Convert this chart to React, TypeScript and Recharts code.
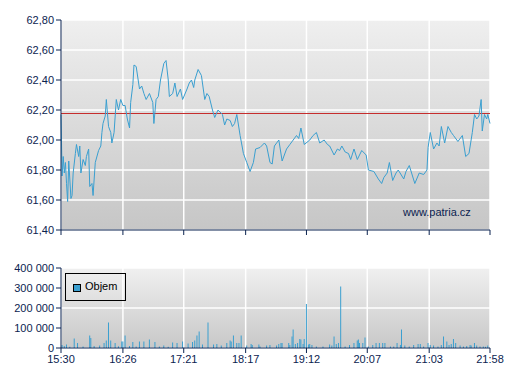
import { Bar, BarChart, CartesianGrid, Line, LineChart, ReferenceLine, XAxis, YAxis } from "recharts";

// x axis labels (trading session 15:30 - 21:58)
const timeLabels = ["15:30", "16:26", "17:21", "18:17", "19:12", "20:07", "21:03", "21:58"];

// minutes since 15:30 and last price
const priceTimes = [
  0, 1, 2, 3, 4, 5, 6, 7, 9, 10, 11, 13, 14, 16, 17, 18, 20, 22, 23, 25, 26, 28, 29, 31, 34, 36, 37, 38, 40, 41,
  43, 45, 46, 48, 50, 52, 54, 56, 58, 60, 62, 63, 65, 66, 68, 71, 73, 75, 76, 77, 80, 83, 84, 86, 88, 90, 93, 95,
  97, 98, 101, 103, 105, 108, 110, 114, 116, 118, 120, 121, 124, 127, 130, 132, 134, 137, 139, 142, 146, 148, 150,
  153, 155, 157, 159, 162, 165, 168, 171, 174, 176, 180, 184, 186, 189, 191, 193, 197, 200, 204, 207, 210, 213,
  215, 217, 220, 225, 228, 231, 234, 238, 241, 243, 247, 250, 252, 254, 257, 260, 262, 265, 268, 272, 276, 278,
  283, 287, 290, 292, 295, 297, 300, 303, 305, 310, 312, 315, 320, 324, 328, 331, 332, 334, 337, 340, 342, 344,
  347, 350, 353, 355, 359, 363, 366, 369, 372, 374, 376, 378, 380, 381, 383, 385, 386, 388,
];
const prices = [
  62.17, 61.76, 61.89, 61.78, 61.85, 61.71, 61.59, 61.86, 61.61, 61.63, 61.78, 61.91, 61.97, 61.89, 61.96, 61.78,
  61.87, 61.83, 61.89, 61.94, 61.69, 61.71, 61.63, 61.85, 61.93, 61.96, 62.05, 62.11, 62.16, 62.27, 62.09, 62.05,
  61.98, 62.05, 62.27, 62.2, 62.27, 62.23, 62.23, 62.14, 62.08, 62.25, 62.37, 62.5, 62.49, 62.34, 62.36, 62.31,
  62.29, 62.27, 62.31, 62.25, 62.11, 62.27, 62.29, 62.4, 62.51, 62.53, 62.4, 62.29, 62.31, 62.38, 62.29, 62.34,
  62.27, 62.34, 62.38, 62.4, 62.35, 62.4, 62.47, 62.43, 62.27, 62.31, 62.29, 62.2, 62.15, 62.2, 62.17, 62.1, 62.14,
  62.13, 62.09, 62.11, 62.17, 62.03, 61.91, 61.85, 61.79, 61.85, 61.94, 61.95, 61.98, 61.96, 61.85, 61.84, 61.96,
  62.0, 61.86, 61.94, 61.97, 62.0, 62.03, 62.01, 62.08, 61.97, 62.0, 62.03, 62.05, 61.98, 62.0, 61.97, 61.96, 61.9,
  61.94, 61.93, 61.96, 61.92, 61.91, 61.87, 61.94, 61.87, 61.93, 61.9, 61.8, 61.79, 61.74, 61.71, 61.75, 61.78,
  61.85, 61.73, 61.78, 61.8, 61.74, 61.79, 61.83, 61.71, 61.78, 61.77, 61.8, 61.95, 62.05, 61.94, 61.98, 61.96,
  62.09, 61.98, 62.09, 62.05, 62.03, 61.99, 62.03, 61.89, 61.91, 62.05, 62.17, 62.14, 62.16, 62.27, 62.06, 62.17,
  62.14, 62.17, 62.11,
];
const previousClose = 62.18;
const priceTicks = [61.4, 61.6, 61.8, 62.0, 62.2, 62.4, 62.6, 62.8];

// traded volume per minute
const volumeTimes = [
  1, 3, 5, 8, 12, 15, 20, 26, 27, 30, 35, 39, 41, 43, 45, 49, 52, 55, 56, 58, 62, 65, 68, 71, 75, 80, 85, 89, 93, 97,
  101, 105, 110, 115, 119, 121, 123, 125, 128, 133, 138, 141, 145, 150, 153, 154, 156, 159, 161, 163, 168, 172,
  173, 179, 180, 186, 189, 195, 197, 199, 200, 206, 207, 209, 210, 212, 214, 216, 217, 219, 220, 222, 224, 225,
  227, 231, 237, 243, 245, 247, 249, 251, 253, 257, 261, 265, 268, 269, 270, 273, 275, 278, 282, 285, 288, 291,
  293, 298, 301, 304, 307, 308, 311, 315, 319, 323, 325, 328, 332, 334, 337, 341, 344, 346, 349, 351, 353, 355,
  357, 361, 364, 367, 370, 371, 374, 376, 379, 382, 384, 386,
];
const volumes = [
  15000, 10000, 17000, 6000, 47000, 25000, 8000, 63000, 50000, 10000, 12000, 25000, 37000, 127000, 37000, 25000,
  9000, 33000, 33000, 62000, 10000, 30000, 8000, 33000, 33000, 42000, 30000, 8000, 13000, 6000, 28000, 25000,
  33000, 23000, 30000, 37000, 63000, 83000, 17000, 127000, 17000, 20000, 13000, 25000, 37000, 33000, 62000, 25000,
  25000, 62000, 13000, 20000, 15000, 17000, 8000, 12000, 15000, 12000, 20000, 25000, 25000, 25000, 15000, 58000,
  92000, 20000, 25000, 45000, 42000, 20000, 45000, 220000, 18000, 20000, 15000, 8000, 8000, 18000, 12000, 58000,
  20000, 25000, 307000, 8000, 15000, 25000, 37000, 42000, 25000, 25000, 53000, 8000, 15000, 25000, 25000, 25000,
  25000, 8000, 8000, 25000, 15000, 92000, 12000, 8000, 15000, 20000, 20000, 8000, 25000, 15000, 12000, 8000, 15000,
  58000, 32000, 15000, 20000, 45000, 25000, 12000, 8000, 10000, 15000, 12000, 25000, 12000, 8000, 8000, 6000,
  12000,
];
const volumeTicks = [0, 100000, 200000, 300000, 400000];

const toMinutes = (label: string) => {
  const [h, m] = label.split(":").map(Number);
  return h * 60 + m;
};
const sessionStart = toMinutes(timeLabels[0]);
const tickMinutes = timeLabels.map((l) => toMinutes(l) - sessionStart);
const timeDomain = [0, tickMinutes[tickMinutes.length - 1]];

const priceRows = priceTimes.map((t, i) => ({ t, price: prices[i] }));
const volumeRows = volumeTimes.map((t, i) => ({ t, volume: volumes[i] }));

const navy = "#0b2350";
const lineBlue = "#3a9fd0";
const font = "'Liberation Sans', Arial, sans-serif";
const tickStyle = { fill: navy, fontSize: 11, fontFamily: font };

const formatPrice = (v: number) => v.toFixed(2).replace(".", ",");
const formatVolume = (v: number) => String(v).replace(/\B(?=(\d{3})+(?!\d))/g, " ");
const formatTime = (v: number) => timeLabels[tickMinutes.indexOf(v)] ?? "";

export default function App() {
  return (
    <div style={{ position: "absolute", left: 0, top: 0, width: 507, height: 380, background: "#fff", fontFamily: font }}>
      <LineChart width={507} height={240} data={priceRows} margin={{ top: 20, right: 17, bottom: 0, left: 0 }}>
        <defs>
          <linearGradient id="priceBg" x1="0" y1="0" x2="0" y2="1">
            <stop offset="0%" stopColor="#efefef" />
            <stop offset="100%" stopColor="#c6c6c6" />
          </linearGradient>
        </defs>
        <CartesianGrid fill="url(#priceBg)" stroke="#ffffff" strokeWidth={1.5} strokeOpacity={1} />
        <XAxis
          dataKey="t"
          type="number"
          domain={timeDomain}
          ticks={tickMinutes}
          tickFormatter={() => ""}
          height={10}
          tickSize={5}
          stroke={navy}
          tick={tickStyle}
        />
        <YAxis
          type="number"
          domain={[61.4, 62.8]}
          ticks={priceTicks}
          tickFormatter={formatPrice}
          width={61}
          tickSize={5}
          tickMargin={2}
          stroke={navy}
          tick={tickStyle}
        />
        <ReferenceLine y={previousClose} stroke="#c62d2d" strokeWidth={1} shapeRendering="crispEdges" />
        <Line
          dataKey="price"
          type="linear"
          stroke={lineBlue}
          strokeWidth={1}
          dot={false}
          isAnimationActive={false}
        />
      </LineChart>
      <div
        style={{ position: "absolute", left: 403, top: 206, fontSize: 11, lineHeight: "13px", color: navy }}
      >
        www.patria.cz
      </div>
      <div style={{ position: "absolute", left: 0, top: 250 }}>
        <BarChart width={507} height={130} data={volumeRows} margin={{ top: 18, right: 17, bottom: 10, left: 0 }}>
          <defs>
            <linearGradient id="volBg" x1="0" y1="0" x2="0" y2="1">
              <stop offset="0%" stopColor="#f0f0f0" />
              <stop offset="100%" stopColor="#c8c8c8" />
            </linearGradient>
          </defs>
          <CartesianGrid fill="url(#volBg)" stroke="#ffffff" strokeWidth={1.5} strokeOpacity={1} />
          <XAxis
            dataKey="t"
            type="number"
            domain={timeDomain}
            ticks={tickMinutes}
            tickFormatter={formatTime}
            height={22}
            tickSize={5}
            tickMargin={2}
            stroke={navy}
            tick={tickStyle}
          />
          <YAxis
            type="number"
            domain={[0, 400000]}
            ticks={volumeTicks}
            tickFormatter={formatVolume}
            width={61}
            tickSize={5}
            tickMargin={2}
            stroke={navy}
            tick={tickStyle}
          />
          <Bar dataKey="volume" fill={lineBlue} barSize={1} isAnimationActive={false} />
        </BarChart>
        <div
          style={{
            position: "absolute",
            left: 65,
            top: 23,
            width: 59,
            height: 26,
            border: "1px solid #000",
            fontSize: 11,
            color: "#000",
          }}
        >
          <span
            style={{
              position: "absolute",
              left: 7,
              top: 10,
              width: 6,
              height: 6,
              background: lineBlue,
              border: "1px solid #000",
            }}
          />
          <span style={{ position: "absolute", left: 19, top: 6, lineHeight: "13px" }}>Objem</span>
        </div>
      </div>
    </div>
  );
}
